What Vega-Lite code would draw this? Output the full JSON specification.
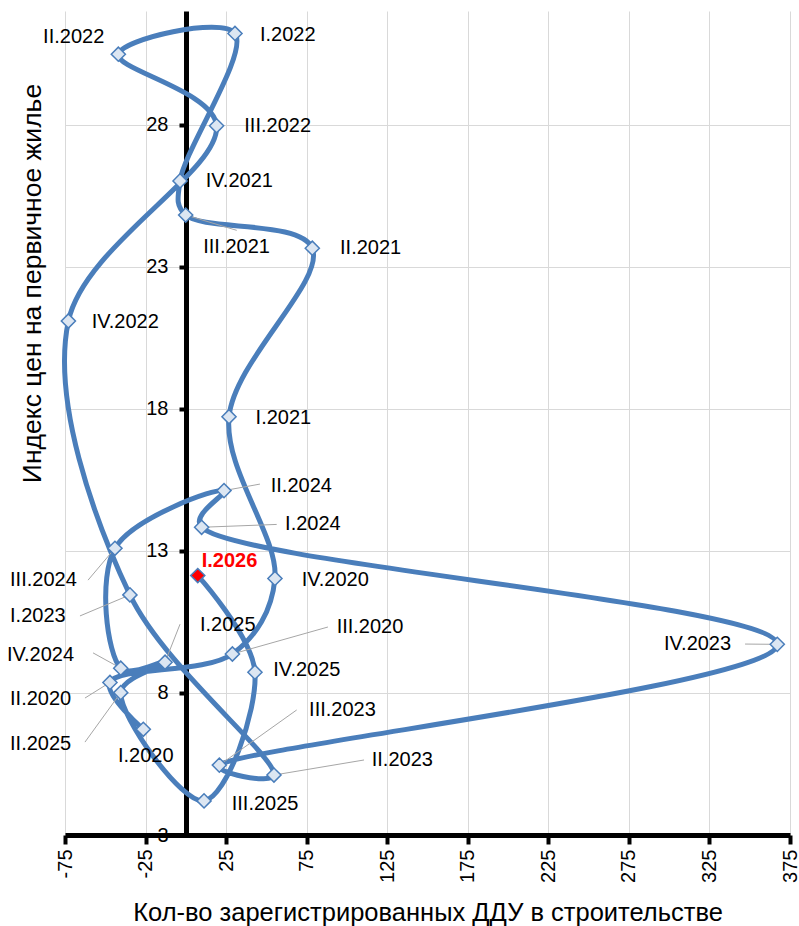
{
  "$schema": "https://vega.github.io/schema/vega-lite/v6.json",
  "width": 725,
  "height": 824,
  "autosize": {"type": "none"},
  "padding": {"left": 65, "top": 11, "right": 9, "bottom": 91},
  "background": "white",
  "config": {
    "font": "Liberation Sans",
    "view": {"stroke": null}
  },
  "data": {
    "values": [
      {"i": 1, "q": "I.2020", "x": -26.4, "y": 6.72, "lx": -42.1, "ly": 5.78},
      {"i": 2, "q": "II.2020", "x": -47.1, "y": 8.37, "lx": -109.1, "ly": 7.79, "ex": -62.6, "ey": 7.82},
      {"i": 3, "q": "III.2020", "x": 28.9, "y": 9.37, "lx": 93.6, "ly": 10.32, "ex": 88.2, "ey": 10.32},
      {"i": 4, "q": "IV.2020", "x": 55.3, "y": 12.03, "lx": 71.9, "ly": 11.97},
      {"i": 5, "q": "I.2021", "x": 26.8, "y": 17.72, "lx": 43.3, "ly": 17.68},
      {"i": 6, "q": "II.2021", "x": 78.5, "y": 23.65, "lx": 95.7, "ly": 23.65},
      {"i": 7, "q": "III.2021", "x": -0.1, "y": 24.82, "lx": 10.8, "ly": 23.71, "ex": 31.6, "ey": 24.28},
      {"i": 8, "q": "IV.2021", "x": -3.6, "y": 26.02, "lx": 12.4, "ly": 26.0},
      {"i": 9, "q": "I.2022", "x": 30.5, "y": 31.21, "lx": 46.0, "ly": 31.16},
      {"i": 10, "q": "II.2022", "x": -41.9, "y": 30.48, "lx": -88.6, "ly": 31.1},
      {"i": 11, "q": "III.2022", "x": 19.1, "y": 27.96, "lx": 36.3, "ly": 27.96},
      {"i": 12, "q": "IV.2022", "x": -72.9, "y": 21.09, "lx": -58.4, "ly": 21.06},
      {"i": 13, "q": "I.2023", "x": -34.7, "y": 11.45, "lx": -109.1, "ly": 10.71, "ex": -65.7, "ey": 10.71},
      {"i": 14, "q": "II.2023", "x": 54.7, "y": 5.11, "lx": 115.4, "ly": 5.64, "ex": 110.6, "ey": 5.64},
      {"i": 15, "q": "III.2023", "x": 20.8, "y": 5.46, "lx": 76.5, "ly": 7.4, "ex": 68.8, "ey": 7.4},
      {"i": 16, "q": "IV.2023", "x": 367.1, "y": 9.71, "lx": 296.8, "ly": 9.72, "ex": 347.1, "ey": 9.72},
      {"i": 17, "q": "I.2024", "x": 9.8, "y": 13.83, "lx": 61.6, "ly": 13.93, "ex": 56.4, "ey": 13.93},
      {"i": 18, "q": "II.2024", "x": 23.7, "y": 15.12, "lx": 52.7, "ly": 15.29, "ex": 46.0, "ey": 15.35},
      {"i": 19, "q": "III.2024", "x": -44.0, "y": 13.09, "lx": -109.1, "ly": 11.97, "ex": -60.7, "ey": 11.97},
      {"i": 20, "q": "IV.2024", "x": -40.4, "y": 8.87, "lx": -111.0, "ly": 9.33, "ex": -57.6, "ey": 9.41},
      {"i": 21, "q": "I.2025", "x": -12.9, "y": 9.08, "lx": 8.8, "ly": 10.39, "ex": -3.6, "ey": 10.42},
      {"i": 22, "q": "II.2025", "x": -40.4, "y": 8.01, "lx": -109.1, "ly": 6.2, "ex": -62.6, "ey": 6.27},
      {"i": 23, "q": "III.2025", "x": 11.3, "y": 4.2, "lx": 28.5, "ly": 4.09},
      {"i": 24, "q": "IV.2025", "x": 42.9, "y": 8.73, "lx": 54.3, "ly": 8.81},
      {"i": 25, "q": "I.2026", "x": 7.4, "y": 12.13, "lx": 9.85, "ly": 12.64}
    ]
  },
  "encoding": {
    "x": {
      "field": "x", "type": "quantitative",
      "scale": {"domain": [-75, 375], "nice": false, "zero": false},
      "axis": {
        "title": "Кол-во зарегистрированных ДДУ в строительстве",
        "titleFont": "Liberation Sans", "titleFontSize": 25.5, "titleFontWeight": "normal", "titleColor": "black",
        "titleBaseline": "middle", "titleY": 77,
        "values": [-75, -25, 25, 75, 125, 175, 225, 275, 325, 375],
        "labelExpr": "'' + datum.value",
        "labelAngle": 270, "labelFontSize": 20, "labelColor": "black", "labelPadding": 5, "labelFlush": false, "labelOverlap": false,
        "domainColor": "black", "domainWidth": 5,
        "tickColor": "black", "tickWidth": 4, "tickSize": 9,
        "grid": true, "gridColor": "#d9d9d9", "gridWidth": 1
      }
    },
    "y": {
      "field": "y", "type": "quantitative",
      "scale": {"domain": [3, 32], "nice": false, "zero": false},
      "axis": {
        "title": "Индекс цен на первичное жилье",
        "titleFont": "Liberation Sans", "titleFontSize": 26.5, "titleFontWeight": "normal", "titleColor": "black",
        "titleAngle": 270, "titleBaseline": "middle", "titleAlign": "center", "titleX": -154, "titleY": 272,
        "values": [3, 8, 13, 18, 23, 28],
        "offset": -121,
        "labelFontSize": 20, "labelColor": "black", "labelPadding": 11, "labelFlush": false, "labelOverlap": false,
        "domainColor": "black", "domainWidth": 5,
        "tickColor": "black", "tickWidth": 4, "tickSize": 7,
        "grid": true, "gridColor": "#d9d9d9", "gridWidth": 1,
        "encode": {"ticks": {"update": {"x": {"value": 7}}}}
      }
    }
  },
  "layer": [
    {
      "mark": {"type": "line", "interpolate": "catmull-rom", "tension": 0.4, "color": "#4A7EBB", "strokeWidth": 5},
      "encoding": {
        "order": {"field": "i", "type": "quantitative"}
      }
    },
    {
      "transform": [{"filter": "isValid(datum.ex)"}],
      "mark": {"type": "rule", "color": "#a6a6a6", "strokeWidth": 1},
      "encoding": {
        "x2": {"field": "ex"},
        "y2": {"field": "ey"}
      }
    },
    {
      "mark": {"type": "point", "shape": "diamond", "filled": true, "size": 200, "strokeWidth": 1.5, "opacity": 1},
      "encoding": {
        "fill": {"condition": {"test": "datum.q === 'I.2026'", "value": "#FF0000"}, "value": "#DCE6F2"},
        "stroke": {"value": "#4A7EBB"}
      }
    },
    {
      "transform": [{"filter": "datum.q !== 'I.2026'"}],
      "mark": {"type": "text", "align": "left", "baseline": "middle", "fontSize": 20, "font": "Liberation Sans", "color": "black"},
      "encoding": {
        "x": {"field": "lx", "type": "quantitative"},
        "y": {"field": "ly", "type": "quantitative"},
        "text": {"field": "q"}
      }
    },
    {
      "transform": [{"filter": "datum.q === 'I.2026'"}],
      "mark": {"type": "text", "align": "left", "baseline": "middle", "fontSize": 20, "fontWeight": "bold", "font": "Liberation Sans", "color": "#FF0000"},
      "encoding": {
        "x": {"field": "lx", "type": "quantitative"},
        "y": {"field": "ly", "type": "quantitative"},
        "text": {"field": "q"}
      }
    }
  ]
}
